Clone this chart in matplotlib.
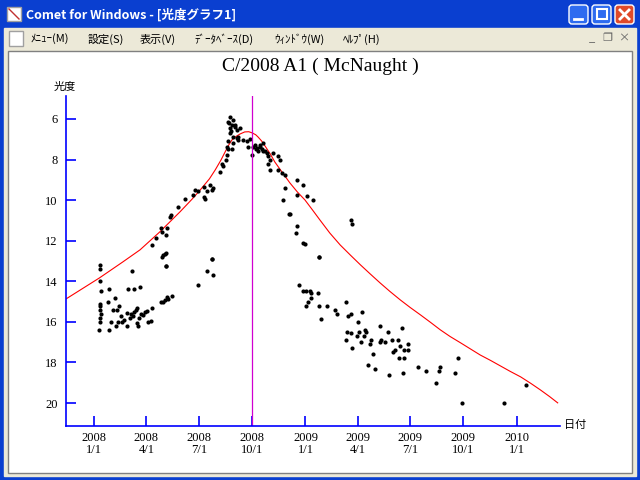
import matplotlib
matplotlib.use("Agg")
import matplotlib.pyplot as plt
from matplotlib.patches import Rectangle, FancyBboxPatch
import numpy as np

plt.rcParams['font.family'] = ['Noto Sans CJK JP', 'DejaVu Sans']

# x = days since 2008-01-01, y = magnitude
curve_day = [-48, 10, 50, 80, 114, 149, 170, 184, 200, 210, 220, 227, 233, 239, 246, 253, 261,
             268, 274, 280, 284, 290, 296, 305, 313, 326, 339, 352, 365, 378, 391, 408, 426,
             444, 461, 478, 495, 512, 530, 547, 565, 582, 599, 616, 634, 651, 668, 686, 703,
             720, 738, 755, 772, 788, 802]
curve_mag = [14.87, 13.83, 13.05, 12.45, 11.57, 10.58, 9.95, 9.50, 8.95, 8.51, 8.02, 7.63,
             7.30, 7.03, 6.86, 6.74, 6.64, 6.63, 6.69, 6.78, 6.89, 7.08, 7.33, 7.72, 8.12,
             8.64, 9.15, 9.60, 9.99, 10.48, 10.98, 11.62, 12.21, 12.72, 13.19, 13.64, 14.08,
             14.50, 14.92, 15.29, 15.66, 16.02, 16.39, 16.72, 17.03, 17.33, 17.63, 17.90,
             18.17, 18.44, 18.71, 19.02, 19.35, 19.68, 19.99]

obs_day = [10, 11, 10, 12, 10, 11, 10, 12, 11, 10, 9,
           26, 36, 59, 69, 80, 66, 47, 57, 73, 74, 85, 92, 100, 94, 99, 76, 57, 74,
           25, 27, 30, 34, 38, 40, 42, 44, 48, 52, 62, 64, 68, 70, 78, 82, 88,
           116, 119, 123, 126, 135, 128, 118, 125, 125,
           180, 196, 204, 206,
           100, 107, 116, 118, 125, 126, 132, 133, 145, 158, 171, 175, 180, 190, 190, 192,
           196, 201, 204, 206, 218, 222, 224, 229, 230, 232, 239, 119, 123, 125, 204,
           236, 241, 232, 239, 236, 244, 248, 253, 236, 241, 232, 248, 250, 241, 230, 258,
           265, 267, 270, 274, 275, 282, 284, 287, 290, 293, 296, 299, 301, 305, 301, 310,
           319, 322, 305, 319, 325, 331, 331, 327, 351, 362, 351, 369, 379, 338, 340, 351,
           350, 362, 365, 390, 445, 447, 234, 238, 245, 250, 278, 280, 288, 292,
           355, 362, 367, 374, 376, 376, 367, 371, 388, 390, 393, 403, 390, 417, 421, 436,
           440, 445, 464, 457, 438, 445, 436, 447, 455, 459, 462, 467, 469, 471, 480, 478,
           483, 474, 487, 494, 495, 497, 504, 509, 511, 516, 518, 521, 526, 530, 532, 528,
           537, 535, 537, 544, 544, 561, 575, 592, 597, 599, 625, 629, 637, 710, 748]
obs_mag = [13.2, 13.4, 14.0, 14.5, 15.1, 15.2, 15.4, 15.6, 15.8, 16.0, 16.4,
           14.4, 14.8, 14.4, 14.4, 14.3, 13.5, 15.7, 15.55, 15.4, 15.3, 15.65, 15.45, 15.3,
           16.0, 15.95, 16.2, 16.2, 16.05,
           15.0, 16.4, 16.0, 15.4, 16.2, 15.4, 16.0, 15.2, 16.0, 15.9, 15.8, 15.6, 15.7,
           15.5, 15.8, 15.6, 15.5,
           15.0, 15.0, 14.9, 14.75, 14.7, 14.85, 12.8, 12.6, 13.25,
           14.2, 13.5, 12.9, 13.7,
           12.2, 11.85, 11.37, 11.55, 11.7, 11.37, 10.83, 10.73, 10.33, 9.94, 9.74, 9.5,
           9.55, 9.35, 9.84, 9.94, 9.55, 9.27, 9.5, 9.4, 8.6, 8.2, 8.3, 8.0, 7.77, 7.5, 7.5,
           12.7, 12.65, 13.25, 12.9,
           5.9, 6.05, 6.15, 6.3, 6.45, 6.4, 6.55, 6.45, 6.7, 6.9, 7.1, 6.95, 7.05, 7.2, 7.4,
           7.05, 7.1, 7.4, 7.0, 7.8, 7.4, 7.45, 7.6, 7.4, 7.5, 7.2, 7.6, 7.7, 7.85, 8.0, 8.2,
           7.7, 7.85, 8.0, 8.5, 8.5, 8.65, 8.75, 9.4, 10.0, 9.0, 9.25, 9.75, 9.8, 10.0, 10.7,
           10.7, 11.3, 11.6, 12.1, 12.15, 12.8, 11.0, 11.2, 6.2, 6.6, 6.3, 6.9, 7.3, 7.5,
           7.3, 7.6,
           14.2, 14.5, 14.5, 14.5, 14.6, 14.8, 15.2, 15.0, 14.6, 15.2, 15.85, 15.2, 12.8,
           15.4, 15.6, 15.0, 15.7, 15.6, 15.5, 16.0, 16.5, 16.55, 16.9, 17.3, 16.7, 16.5,
           17.0, 16.7, 16.4, 16.5, 16.9, 17.1, 17.6, 18.1, 18.3, 16.2, 17.0, 16.9, 17.0,
           16.5, 18.6, 16.9, 17.5, 17.4, 16.9, 17.2, 16.3, 17.8, 17.8, 18.5, 17.4, 17.1,
           17.4, 18.2, 18.4, 19.0, 18.4, 18.2, 18.5, 17.8, 20.0, 20.0, 19.1]

tick_days = [0, 91, 182, 274, 366, 456, 547, 639, 731]
tick_labels = ["2008\n1/1", "2008\n4/1", "2008\n7/1", "2008\n10/1", "2009\n1/1",
               "2009\n4/1", "2009\n7/1", "2009\n10/1", "2010\n1/1"]
mag_ticks = [6, 8, 10, 12, 14, 16, 18, 20]
today = 274

W, H = 640, 480
fig = plt.figure(figsize=(6.4, 4.8), dpi=100)

# ---- window chrome (pixel coords) ----
bg = fig.add_axes([0, 0, 1, 1], zorder=-1)
bg.set_xlim(0, W); bg.set_ylim(H, 0); bg.axis("off")
bg.add_patch(Rectangle((0, 0), W, H, color="#0A3FD0"))
grad = np.linspace(0, 1, 28)[:, None]
bg.imshow(grad, extent=(0, W, 28, 0), cmap=matplotlib.colors.LinearSegmentedColormap.from_list(
    "t", ["#3A82F4", "#0A5AE8", "#0046D5"]), aspect="auto")
bg.add_patch(Rectangle((4, 28), W - 8, 22, color="#ECE9D8"))
bg.add_patch(Rectangle((4, 50), W - 8, H - 54, color="#ECE9D8"))
bg.add_patch(Rectangle((8, 51), W - 16, H - 58, color="white", ec="#808080", lw=1))
bg.add_patch(Rectangle((7, 7), 14, 14, color="white", ec="#A0A0A0"))
bg.plot([9, 19], [9, 19], color="#C03030", lw=1)
bg.text(26, 15, "Comet for Windows - [光度グラフ1]", color="white", fontsize=9,
        fontweight="bold", va="center")
for x0, c in [(569, "#2E6BF0"), (592, "#2E6BF0"), (615, "#E04A2A")]:
    bg.add_patch(FancyBboxPatch((x0, 5), 19, 19, boxstyle="round,pad=0,rounding_size=3",
                                fc=c, ec="white", lw=1))
bg.plot([574, 582], [19, 19], color="white", lw=2)
bg.add_patch(Rectangle((597, 9), 10, 10, fill=False, ec="white", lw=1.5))
bg.plot([620, 629], [10, 19], color="white", lw=2)
bg.plot([620, 629], [19, 10], color="white", lw=2)
bg.add_patch(Rectangle((9, 31), 14, 15, color="white", ec="#A0A0A0"))
menus = [(30, "ﾒﾆｭｰ(M)"), (88, "設定(S)"), (140, "表示(V)"), (194, "ﾃﾞｰﾀﾍﾞｰｽ(D)"),
         (274, "ｳｨﾝﾄﾞｳ(W)"), (343, "ﾍﾙﾌﾟ(H)")]
for x0, m in menus:
    bg.text(x0, 39, m, fontsize=8, va="center", color="black")
for x0, s in [(592, "_"), (607, "❐"), (624, "×")]:
    bg.text(x0, 38, s, fontsize=8, va="center", ha="center", color="#606060")

# ---- chart ----
x0p, x1p, y0p, y1p = 66, 560, 96, 426
ax = fig.add_axes([x0p / W, 1 - y1p / H, (x1p - x0p) / W, (y1p - y0p) / H])
ax.set_xlim(-48, 806)
ax.set_ylim(21.13, 4.87)
ax.plot(curve_day, curve_mag, color="red", lw=0.8)
ax.plot(obs_day, obs_mag, "o", color="black", ms=3, mew=0)
ax.axvline(today, color="#D000D0", lw=0.9)
for s in ["top", "right"]:
    ax.spines[s].set_visible(False)
for s in ["left", "bottom"]:
    ax.spines[s].set_color("blue")
    ax.spines[s].set_linewidth(1.2)
ax.set_xticks(tick_days)
ax.set_xticklabels(tick_labels, family=["Liberation Serif"], fontsize=9, linespacing=1.05)
ax.set_yticks(mag_ticks)
ax.set_yticklabels([str(m) for m in mag_ticks], family=["Liberation Serif"], fontsize=9)
ax.tick_params(direction="in", color="blue", length=7, width=1.2)
ax.tick_params(axis="x", pad=4)
ax.tick_params(axis="y", pad=6)
ax.set_facecolor("white")

fig.text(320 / W, 1 - 66 / H, "C/2008 A1 ( McNaught )", family=["Liberation Serif"],
         fontsize=14, ha="center", va="center")
fig.text(65 / W, 1 - 87 / H, "光度", fontsize=8, ha="center", va="center")
fig.text(575 / W, 1 - 425 / H, "日付", fontsize=8, ha="center", va="center")

fig.savefig("out.png", dpi=100)
